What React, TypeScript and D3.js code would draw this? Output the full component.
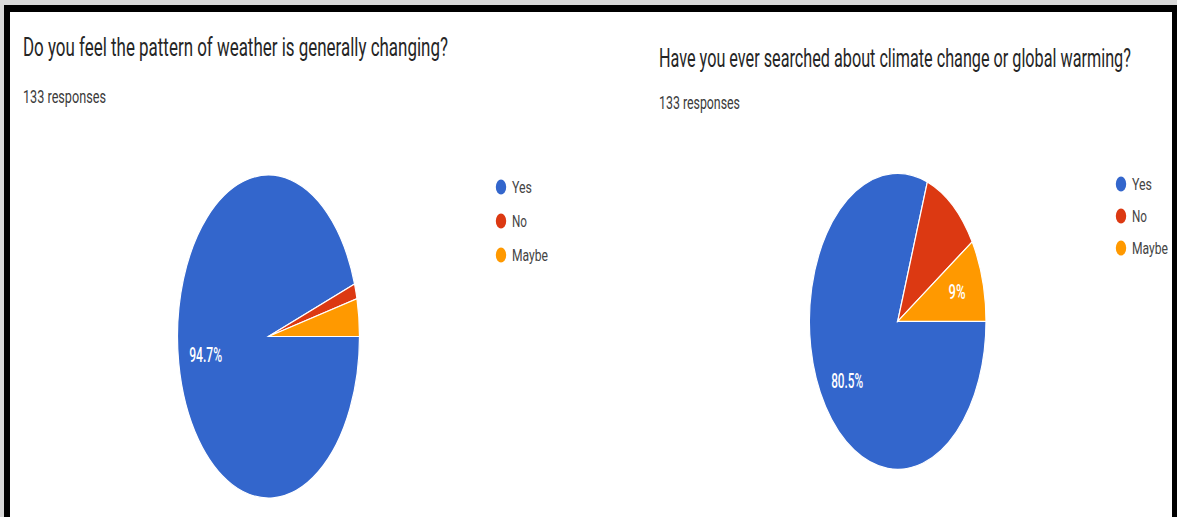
import React, { useLayoutEffect, useRef, useState } from "react";
import * as d3 from "d3";

const categories = ["Yes", "No", "Maybe"];
const colors = ["#3366cc", "#dc3912", "#ff9900"];
const chart1Counts = [126, 2, 5];
const chart2Counts = [107, 14, 12];
const chart1ShowLabel = [true, false, false];
const chart2ShowLabel = [true, false, true];
const titles = [
  "Do you feel the pattern of weather is generally changing?",
  "Have you ever searched about climate change or global warming?",
];
const responseCounts = [133, 133];

type PanelCfg = {
  counts: number[];
  show: boolean[];
  title: string;
  responses: number;
  titleX: number;
  titleY: number;
  titleW: number;
  respY: number;
  respW: number;
  cx: number;
  cy: number;
  rx: number;
  ry: number;
  legX: number;
  legY: number;
  legStep: number;
  labelW: number[];
};

const fmt = d3.format(".1~%");
const legendW = [20, 15, 36];

type FitProps = {
  x: number;
  y: number;
  width: number;
  anchor?: "start" | "middle";
  fontSize: number;
  fill: string;
  weight?: number;
  dy?: string;
  children: string;
};

// Text squeezed horizontally (like the reference) via a measured scale transform.
function FitText({ x, y, width, anchor = "start", fontSize, fill, weight = 400, dy, children }: FitProps) {
  const ref = useRef<SVGTextElement>(null);
  const [s, setS] = useState(0.6);
  useLayoutEffect(() => {
    if (ref.current) {
      const len = ref.current.getComputedTextLength();
      if (len > 0) setS(width / len);
    }
  }, [width, children, fontSize]);
  return (
    <text
      ref={ref}
      transform={`translate(${x},${y}) scale(${s},1)`}
      dy={dy}
      textAnchor={anchor}
      fontFamily="Roboto, sans-serif"
      fontSize={fontSize}
      fontWeight={weight}
      fill={fill}
    >
      {children}
    </text>
  );
}

function Panel({ cfg }: { cfg: PanelCfg }) {
  const total = d3.sum(cfg.counts);
  const pie = d3
    .pie<number>()
    .value((d) => d)
    .sort(null)
    .startAngle(Math.PI / 2)
    .endAngle(Math.PI / 2 + 2 * Math.PI);
  const arcs = pie(cfg.counts);
  const R = 100;
  const arc = d3.arc<d3.PieArcDatum<number>>().innerRadius(0).outerRadius(R);
  const labelArc = d3
    .arc<d3.PieArcDatum<number>>()
    .innerRadius(R * 0.7)
    .outerRadius(R * 0.7);
  const sx = cfg.rx / R;
  const sy = cfg.ry / R;
  return (
    <g>
      <FitText x={cfg.titleX} y={cfg.titleY} width={cfg.titleW} fontSize={26} fill="#262626">
        {cfg.title}
      </FitText>
      <FitText x={cfg.titleX} y={cfg.respY} width={cfg.respW} fontSize={19} fill="#3a3a3a">
        {`${cfg.responses} responses`}
      </FitText>
      <g transform={`translate(${cfg.cx},${cfg.cy}) scale(${sx},${sy})`}>
        {arcs.map((a, i) => (
          <path
            key={i}
            d={arc(a) || ""}
            fill={colors[i]}
            stroke="#ffffff"
            strokeWidth={1.2}
            vectorEffect="non-scaling-stroke"
          />
        ))}
      </g>
      {arcs.map((a, i) => {
        if (!cfg.show[i]) return null;
        const [lx, ly] = labelArc.centroid(a);
        return (
          <FitText
            key={i}
            x={cfg.cx + lx * sx}
            y={cfg.cy + ly * sy}
            dy="0.35em"
            anchor="middle"
            fontSize={20}
            weight={500}
            fill="#ffffff"
            width={cfg.labelW[i]}
          >
            {fmt(cfg.counts[i] / total)}
          </FitText>
        );
      })}
      {categories.map((c, i) => (
        <g key={c} transform={`translate(${cfg.legX},${cfg.legY + i * cfg.legStep})`}>
          <ellipse cx={0} cy={0} rx={5.2} ry={7.6} fill={colors[i]} />
          <FitText x={11} y={0} dy="0.35em" fontSize={17} fill="#444" width={legendW[i]}>
            {c}
          </FitText>
        </g>
      ))}
    </g>
  );
}

export default function App() {
  const panels: PanelCfg[] = [
    {
      counts: chart1Counts,
      show: chart1ShowLabel,
      title: titles[0],
      responses: responseCounts[0],
      titleX: 23,
      titleY: 56,
      titleW: 425,
      respY: 103,
      respW: 83,
      cx: 268.5,
      cy: 336.5,
      rx: 91,
      ry: 161.5,
      legX: 501,
      legY: 187,
      legStep: 34,
      labelW: [33, 0, 0],
    },
    {
      counts: chart2Counts,
      show: chart2ShowLabel,
      title: titles[1],
      responses: responseCounts[1],
      titleX: 659,
      titleY: 66.5,
      titleW: 472,
      respY: 109,
      respW: 81,
      cx: 897.7,
      cy: 321.3,
      rx: 88.3,
      ry: 148,
      legX: 1121,
      legY: 184,
      legStep: 32,
      labelW: [32, 0, 17],
    },
  ];
  return (
    <div style={{ position: "absolute", left: 0, top: 0 }}>
      <svg width={1177} height={517} style={{ display: "block" }}>
        <rect x={0} y={0} width={1177} height={517} fill="#ffffff" />
        <rect x={0} y={0} width={1177} height={5} fill="#d8d8d8" />
        <rect x={0} y={0} width={4} height={517} fill="#d8d8d8" />
        <rect x={4} y={5} width={1173} height={7} fill="#000000" />
        <rect x={4} y={5} width={6} height={512} fill="#000000" />
        <rect x={1172} y={5} width={5} height={512} fill="#000000" />
        {panels.map((p, i) => (
          <Panel key={i} cfg={p} />
        ))}
      </svg>
    </div>
  );
}
